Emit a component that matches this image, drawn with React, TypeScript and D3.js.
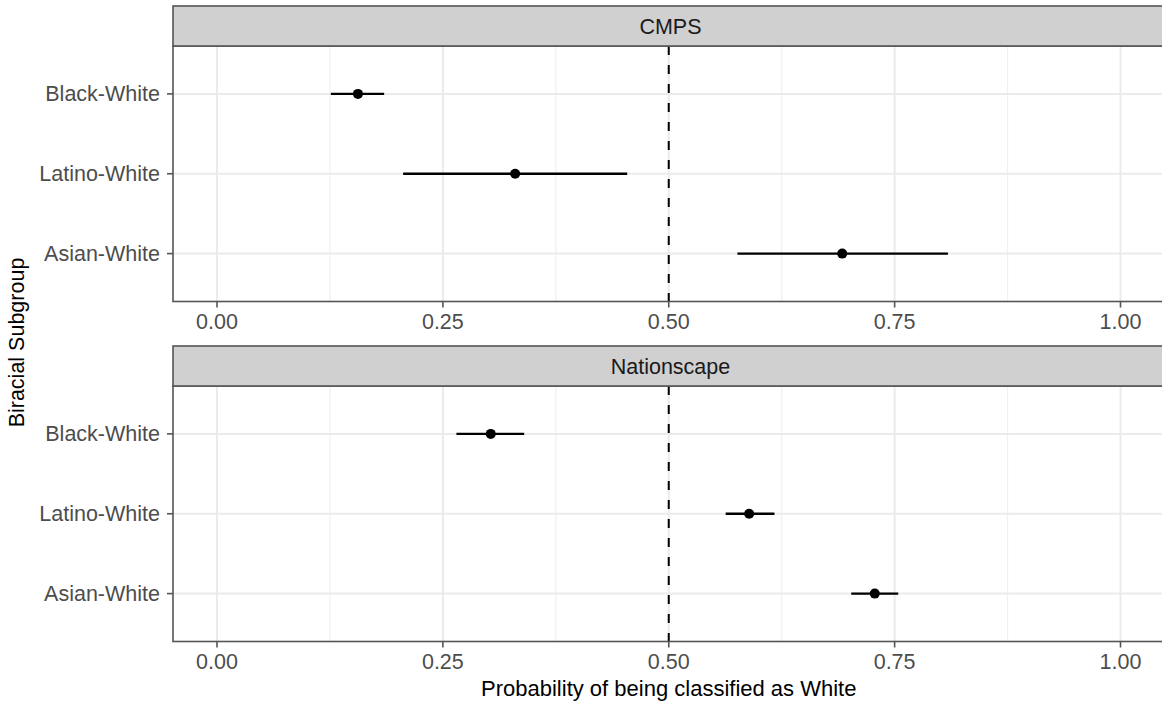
import React, { useRef, useEffect } from "react";
import * as d3 from "d3";

const categories = ["Black-White", "Latino-White", "Asian-White"];
const panelNames = ["CMPS", "Nationscape"];

const cmpsEst = [0.156, 0.33, 0.692];
const cmpsLow = [0.126, 0.206, 0.576];
const cmpsHigh = [0.185, 0.454, 0.809];

const nsEst = [0.303, 0.589, 0.728];
const nsLow = [0.265, 0.563, 0.702];
const nsHigh = [0.34, 0.617, 0.754];

const xTicks = [0, 0.25, 0.5, 0.75, 1];
const xTickLabels = ["0.00", "0.25", "0.50", "0.75", "1.00"];
const refLine = 0.5;

const FONT = "'Liberation Sans', Arial, Helvetica, sans-serif";

const App = () => {
  const svgRef = useRef<SVGSVGElement>(null);

  useEffect(() => {
    const width = 1162;
    const height = 702;
    const svg = d3.select(svgRef.current);
    svg.selectAll("*").remove();
    svg.attr("width", width).attr("height", height);

    const x = d3.scaleLinear().domain([0, 1]).range([217, 1120.5]);
    const panelLeft = x(-0.0487);
    const panelRight = width + 4;

    const panels = [
      { name: panelNames[0], top: 6, est: cmpsEst, low: cmpsLow, high: cmpsHigh },
      { name: panelNames[1], top: 346, est: nsEst, low: nsLow, high: nsHigh },
    ];
    const stripH = 40;
    const bodyH = 255.5;
    const border = "#555555";

    // minor grid = midpoints between major ticks
    const minor = d3.pairs(xTicks).map(([a, b]) => (a + b) / 2);

    panels.forEach((p) => {
      const g = svg.append("g");
      const bodyTop = p.top + stripH;
      const bodyBottom = bodyTop + bodyH;
      const y = d3
        .scalePoint()
        .domain(categories)
        .range([bodyTop, bodyBottom])
        .padding(0.6);

      // panel background
      g.append("rect")
        .attr("x", panelLeft)
        .attr("y", bodyTop)
        .attr("width", panelRight - panelLeft)
        .attr("height", bodyH)
        .attr("fill", "#fff");

      // grid
      g.selectAll(".minor")
        .data(minor)
        .enter()
        .append("line")
        .attr("x1", (d) => x(d))
        .attr("x2", (d) => x(d))
        .attr("y1", bodyTop)
        .attr("y2", bodyBottom)
        .attr("stroke", "#f0f0f0")
        .attr("stroke-width", 1.2);

      g.selectAll(".major")
        .data(xTicks)
        .enter()
        .append("line")
        .attr("x1", (d) => x(d))
        .attr("x2", (d) => x(d))
        .attr("y1", bodyTop)
        .attr("y2", bodyBottom)
        .attr("stroke", "#ebebeb")
        .attr("stroke-width", 2);

      g.selectAll(".hgrid")
        .data(categories)
        .enter()
        .append("line")
        .attr("x1", panelLeft)
        .attr("x2", panelRight)
        .attr("y1", (d) => y(d))
        .attr("y2", (d) => y(d))
        .attr("stroke", "#ebebeb")
        .attr("stroke-width", 2);

      // dashed reference line
      g.append("line")
        .attr("x1", x(refLine))
        .attr("x2", x(refLine))
        .attr("y1", bodyTop)
        .attr("y2", bodyBottom)
        .attr("stroke", "#000")
        .attr("stroke-width", 2)
        .attr("stroke-dasharray", "9,10");

      // error bars
      g.selectAll(".err")
        .data(categories)
        .enter()
        .append("line")
        .attr("x1", (d, i) => x(p.low[i]))
        .attr("x2", (d, i) => x(p.high[i]))
        .attr("y1", (d) => y(d))
        .attr("y2", (d) => y(d))
        .attr("stroke", "#000")
        .attr("stroke-width", 2.4);

      g.selectAll(".pt")
        .data(categories)
        .enter()
        .append("circle")
        .attr("cx", (d, i) => x(p.est[i]))
        .attr("cy", (d) => y(d))
        .attr("r", 5)
        .attr("fill", "#000");

      // panel border
      g.append("rect")
        .attr("x", panelLeft)
        .attr("y", bodyTop)
        .attr("width", panelRight - panelLeft)
        .attr("height", bodyH)
        .attr("fill", "none")
        .attr("stroke", border)
        .attr("stroke-width", 1.6);

      // strip
      g.append("rect")
        .attr("x", panelLeft)
        .attr("y", p.top)
        .attr("width", panelRight - panelLeft)
        .attr("height", stripH)
        .attr("fill", "#d0d0d0")
        .attr("stroke", border)
        .attr("stroke-width", 1.6);

      g.append("text")
        .attr("x", (panelLeft + panelRight) / 2 + 1)
        .attr("y", p.top + stripH / 2 + 7.5)
        .attr("text-anchor", "middle")
        .style("font-family", FONT)
        .style("font-size", "21.5px")
        .style("fill", "#1a1a1a")
        .text(p.name);

      // y axis ticks + labels
      g.selectAll(".ytick")
        .data(categories)
        .enter()
        .append("line")
        .attr("x1", panelLeft - 6)
        .attr("x2", panelLeft)
        .attr("y1", (d) => y(d))
        .attr("y2", (d) => y(d))
        .attr("stroke", border)
        .attr("stroke-width", 1.6);

      g.selectAll(".ylab")
        .data(categories)
        .enter()
        .append("text")
        .attr("x", panelLeft - 13)
        .attr("y", (d) => y(d) + 7.5)
        .attr("text-anchor", "end")
        .style("font-family", FONT)
        .style("font-size", "21.5px")
        .style("fill", "#4d4d4d")
        .text((d) => d);

      // x axis ticks + labels
      g.selectAll(".xtick")
        .data(xTicks)
        .enter()
        .append("line")
        .attr("x1", (d) => x(d))
        .attr("x2", (d) => x(d))
        .attr("y1", bodyBottom)
        .attr("y2", bodyBottom + 6)
        .attr("stroke", border)
        .attr("stroke-width", 1.6);

      g.selectAll(".xlab")
        .data(xTicks)
        .enter()
        .append("text")
        .attr("x", (d) => x(d))
        .attr("y", bodyBottom + 27)
        .attr("text-anchor", "middle")
        .style("font-family", FONT)
        .style("font-size", "21.5px")
        .style("fill", "#4d4d4d")
        .text((d, i) => xTickLabels[i]);
    });

    // axis titles
    svg
      .append("text")
      .attr("x", x(0.5))
      .attr("y", 696)
      .attr("text-anchor", "middle")
      .style("font-family", FONT)
      .style("font-size", "22px")
      .style("fill", "#000")
      .text("Probability of being classified as White");

    svg
      .append("text")
      .attr("transform", "translate(24,342.5) rotate(-90)")
      .attr("text-anchor", "middle")
      .style("font-family", FONT)
      .style("font-size", "21.5px")
      .style("fill", "#000")
      .text("Biracial Subgroup");
  }, []);

  return (
    <div style={{ position: "absolute", left: 0, top: 0, background: "#fff" }}>
      <svg ref={svgRef} style={{ display: "block" }}></svg>
    </div>
  );
};

export default App;
